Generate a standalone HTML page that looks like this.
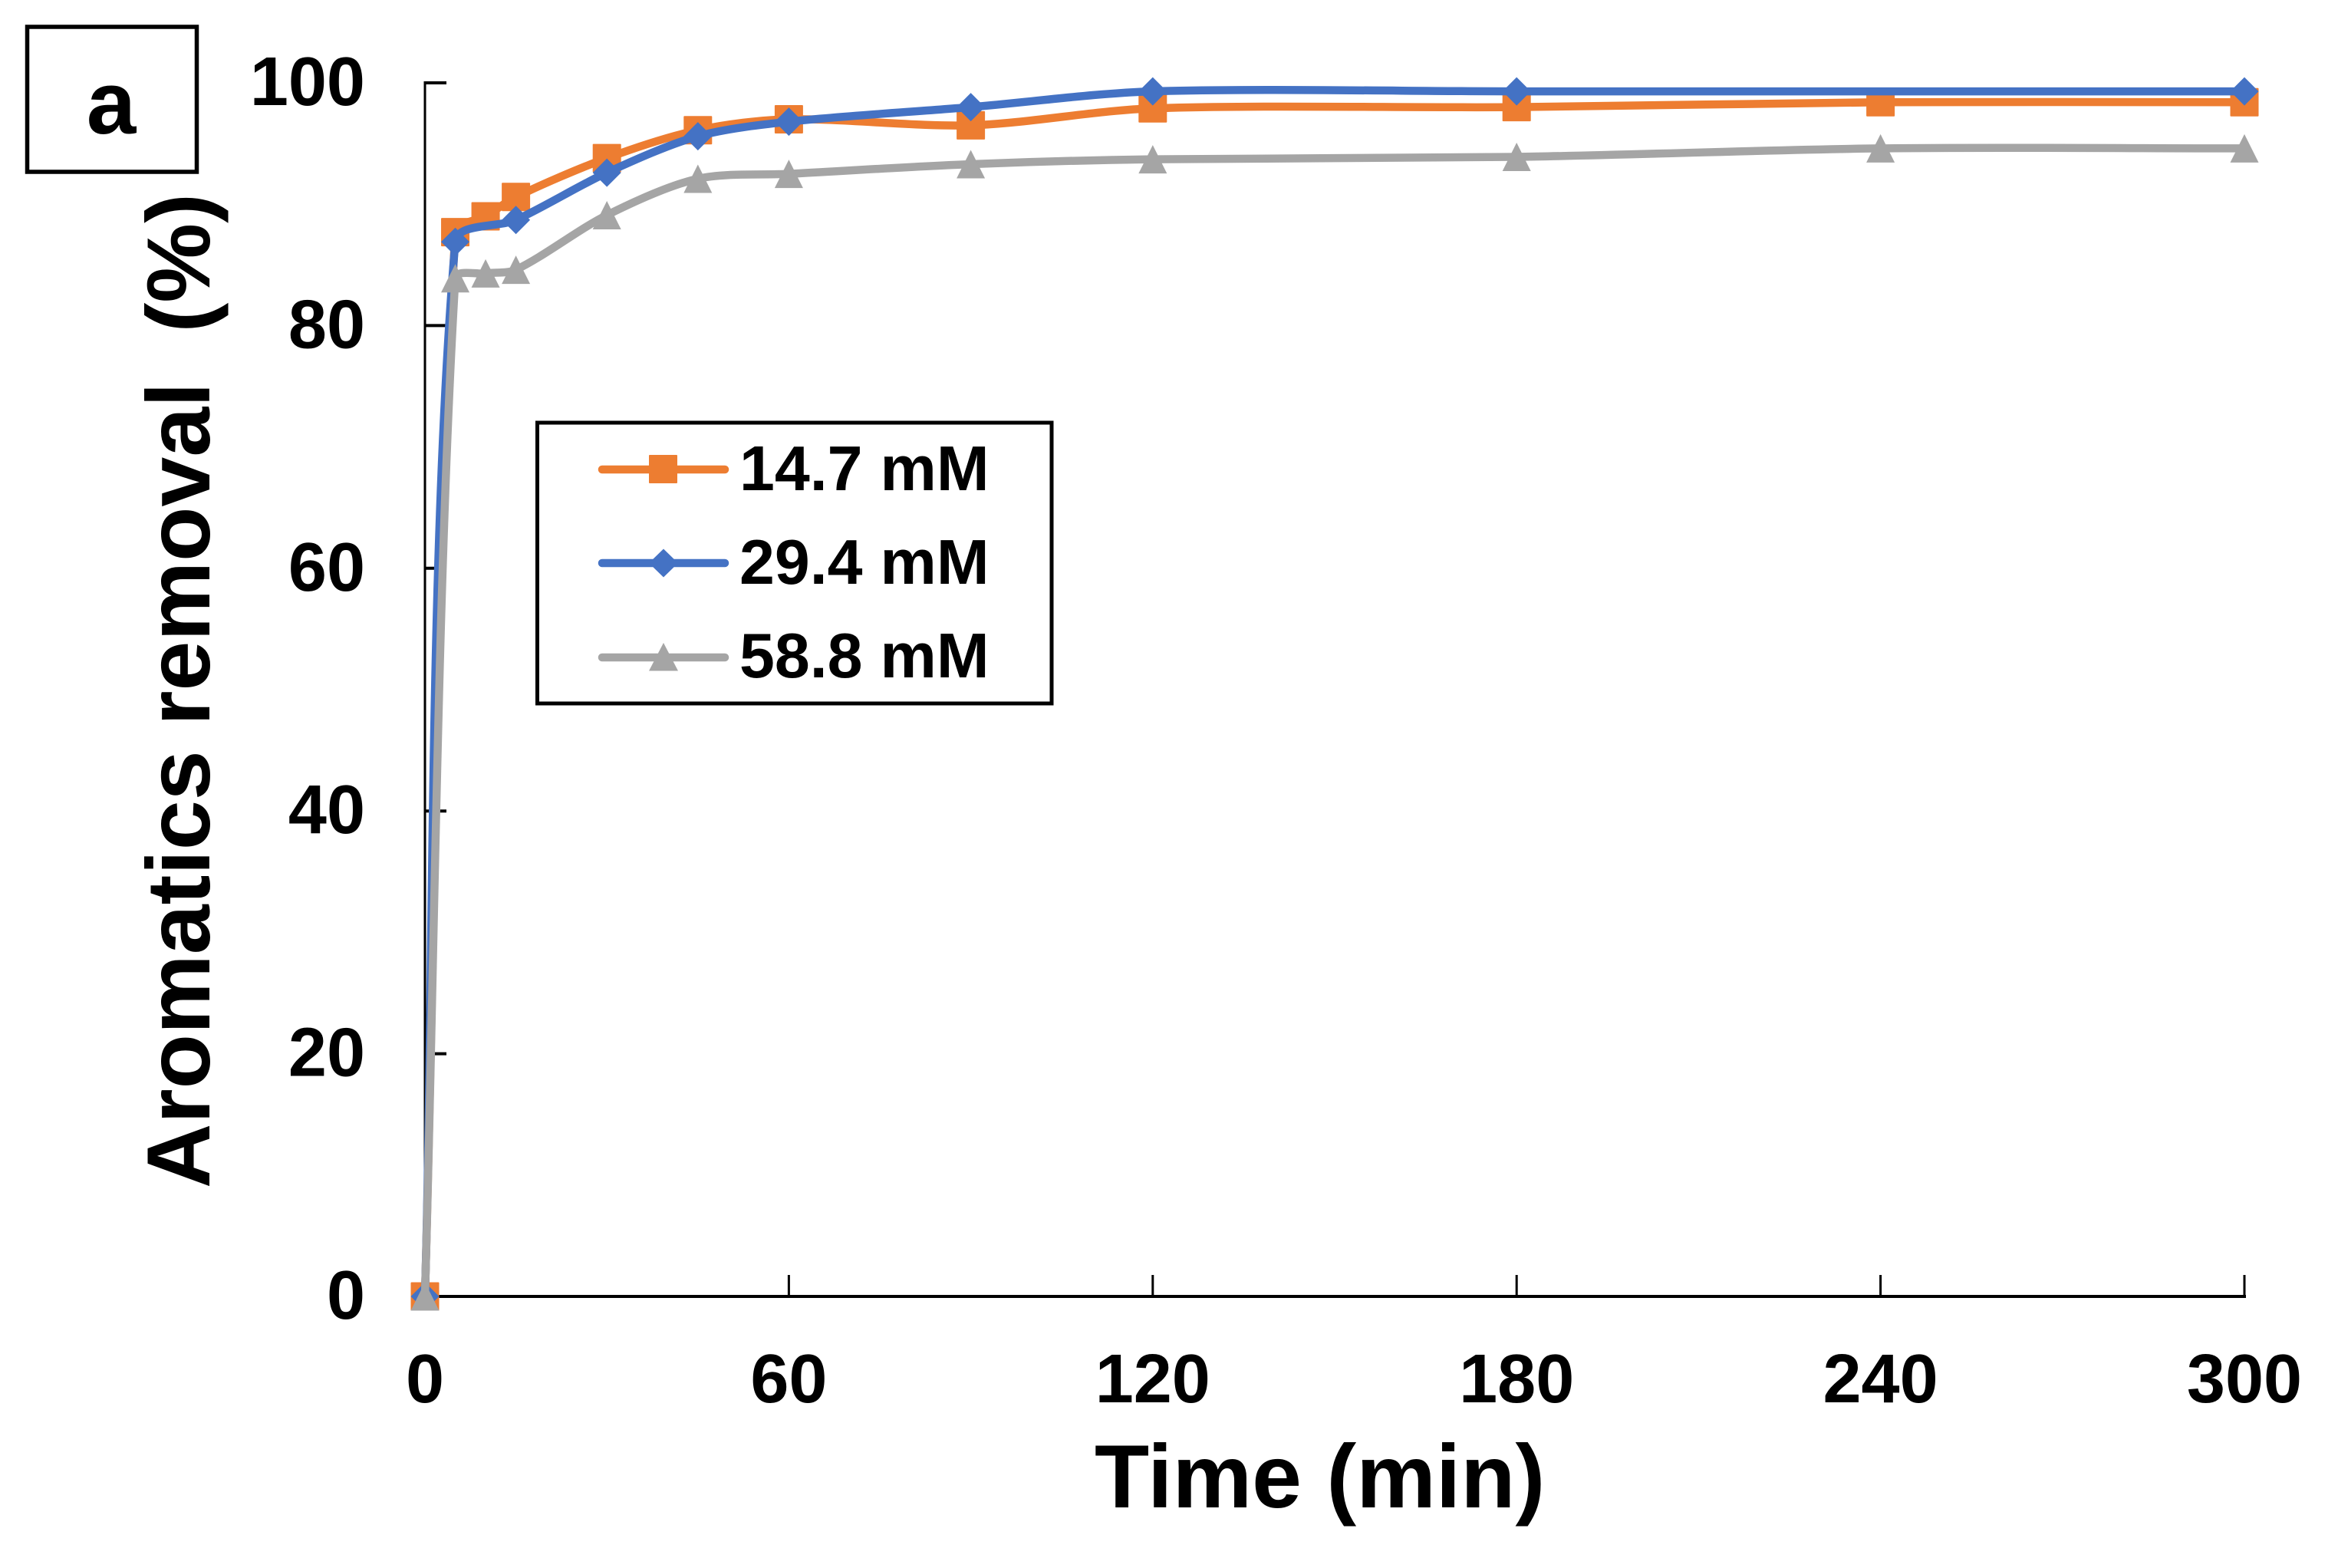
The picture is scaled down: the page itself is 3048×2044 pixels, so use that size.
<!DOCTYPE html>
<html lang="en">
<head>
<meta charset="utf-8">
<title>Aromatics removal over time</title>
<style>
html,body{margin:0;padding:0;background:#fff;}
svg{display:block;}
text{font-family:"Liberation Sans",Arial,sans-serif;font-weight:700;fill:#000;white-space:pre;}
</style>
</head>
<body>
<svg id="chart" xmlns="http://www.w3.org/2000/svg" width="3048" height="2044" viewBox="0 0 3048 2044">
  <rect x="0" y="0" width="3048" height="2044" fill="#fff"/>
  <g id="axes"></g>
  <g id="series"></g>

  <text x="273" y="1549" transform="rotate(-90 273 1549)" font-size="116.7" xml:space="preserve">Aromatics removal  (%)</text>
  <text x="1427" y="1965" font-size="116.6">Time (min)</text>

  <g>
    <rect x="35.5" y="35" width="221" height="189" fill="#fff" stroke="#000" stroke-width="5.5"/>
    <text x="145" y="174" font-size="116" text-anchor="middle">a</text>
  </g>

  <g>
    <rect x="700.5" y="551" width="670.5" height="366" fill="#fff" stroke="#000" stroke-width="5"/>
    <g>
      <line x1="785" y1="612" x2="945" y2="612" stroke="#ED7D31" stroke-width="10.5" stroke-linecap="round"/>
      <rect x="846" y="593" width="37" height="37" rx="1" fill="#ED7D31"/>
      <text x="964" y="639" font-size="82.5">14.7 mM</text>
    </g>
    <g>
      <line x1="785" y1="734" x2="945" y2="734" stroke="#4472C4" stroke-width="10.5" stroke-linecap="round"/>
      <polygon points="865,715.5 884,734 865,752.5 846,734" fill="#4472C4"/>
      <text x="964" y="761" font-size="82.5">29.4 mM</text>
    </g>
    <g>
      <line x1="785" y1="857" x2="945" y2="857" stroke="#A5A5A5" stroke-width="10.5" stroke-linecap="round"/>
      <polygon points="865,838 884,874.5 846,874.5" fill="#A5A5A5"/>
      <text x="964" y="883" font-size="82.5">58.8 mM</text>
    </g>
  </g>
</svg>
<script>
const xTickValues = [0, 60, 120, 180, 240, 300];
const yTickValues = [0, 20, 40, 60, 80, 100];

const timesOrange = [0, 5, 10, 15, 30, 45, 60, 90, 120, 180, 240, 300];
const valuesOrange = [0, 87.7, 89.0, 90.6, 93.8, 96.1, 97.0, 96.5, 97.9, 98.0, 98.4, 98.4];

const timesBlue = [0, 5, 15, 30, 45, 60, 90, 120, 180, 300];
const valuesBlue = [0, 86.9, 88.7, 92.6, 95.6, 96.8, 98.0, 99.3, 99.3, 99.3];

const timesGray = [0, 5, 10, 15, 30, 45, 60, 90, 120, 180, 240, 300];
const valuesGray = [0, 83.9, 84.3, 84.6, 89.1, 92.1, 92.5, 93.3, 93.7, 93.9, 94.6, 94.6];

const svgNS = 'http://www.w3.org/2000/svg';
const axesGroup = document.getElementById('axes');
const seriesGroup = document.getElementById('series');

function xScale(t) { return 554 + (t / 300) * (2926 - 554); }
function yScale(v) { return 1690 - (v / 100) * (1690 - 108); }

function make(tag, attrs) {
  const el = document.createElementNS(svgNS, tag);
  for (const k in attrs) el.setAttribute(k, attrs[k]);
  return el;
}

// Axis lines
const yAxisLine = make('line', { x1: 554, y1: 106, x2: 554, y2: 1692, stroke: '#000', 'stroke-width': 3 });


axesGroup.appendChild(yAxisLine);

const xAxisLine = make('line', { x1: 552, y1: 1690, x2: 2928, y2: 1690, stroke: '#000', 'stroke-width': 4 });


axesGroup.appendChild(xAxisLine);

// Y ticks and labels
yTickValues.forEach(function (v) {
  const tick = make('line', { x1: 554, y1: yScale(v), x2: 582, y2: yScale(v), stroke: '#000', 'stroke-width': 4 });
  
  
  axesGroup.appendChild(tick);
  const label = make('text', { x: 476, y: yScale(v) + 29, 'font-size': 90, 'text-anchor': 'end' });
  label.textContent = String(v);
  
  
  axesGroup.appendChild(label);
});

// X ticks and labels
xTickValues.forEach(function (t) {
  const tick = make('line', { x1: xScale(t), y1: 1662, x2: xScale(t), y2: 1690, stroke: '#000', 'stroke-width': 3 });
  
  
  axesGroup.appendChild(tick);
  const label = make('text', { x: xScale(t), y: 1828, 'font-size': 90, 'text-anchor': 'middle' });
  label.textContent = String(t);
  
  
  axesGroup.appendChild(label);
});

// Smoothed path: tangents weighted by segment length, with magnitude limited to a share of the segment
function smoothPath(pts) {
  function dist(a, b) { return Math.hypot(a[0] - b[0], a[1] - b[1]); }
  function ctrl(prev, cur, next, nearLen) {
    const total = dist(prev, cur) + dist(cur, next);
    const f = total > 0 ? 0.4 * nearLen / total : 0;
    let cx = (next[0] - prev[0]) * f, cy = (next[1] - prev[1]) * f;
    const mag = Math.hypot(cx, cy), limit = nearLen * 0.3;
    if (mag > limit) { cx *= limit / mag; cy *= limit / mag; }
    return [cx, cy];
  }
  let d = 'M' + pts[0][0] + ' ' + pts[0][1];
  for (let i = 0; i < pts.length - 1; i++) {
    const p0 = pts[Math.max(i - 1, 0)], p1 = pts[i], p2 = pts[i + 1], p3 = pts[Math.min(i + 2, pts.length - 1)];
    const len = dist(p1, p2);
    const a = ctrl(p0, p1, p2, len);
    const b = ctrl(p1, p2, p3, len);
    d += ' C' + (p1[0] + a[0]) + ' ' + (p1[1] + a[1]) + ' ' + (p2[0] - b[0]) + ' ' + (p2[1] - b[1]) + ' ' + p2[0] + ' ' + p2[1];
  }
  return d;
}

function drawSeries(name, times, values, color, markerKind) {
  const group = make('g', {});
  
  
  const pts = times.map(function (t, i) { return [xScale(t), yScale(values[i])]; });
  const line = make('path', { d: smoothPath(pts), fill: 'none', stroke: color, 'stroke-width': 10.5, 'stroke-linejoin': 'round' });
  
  
  group.appendChild(line);
  pts.forEach(function (p) {
    const x = p[0], y = p[1], r = 18.5;
    let marker;
    if (markerKind === 'square') {
      marker = make('rect', { x: x - r, y: y - r, width: 2 * r, height: 2 * r, rx: 1, fill: color });
    } else if (markerKind === 'diamond') {
      marker = make('polygon', { points: [x, y - r, x + r, y, x, y + r, x - r, y].join(' '), fill: color });
    } else {
      marker = make('polygon', { points: [x, y - r, x + r, y + r, x - r, y + r].join(' '), fill: color });
    }
    
    
    group.appendChild(marker);
  });
  seriesGroup.appendChild(group);
}

drawSeries('14-7-mm', timesOrange, valuesOrange, '#ED7D31', 'square');
drawSeries('29-4-mm', timesBlue, valuesBlue, '#4472C4', 'diamond');
drawSeries('58-8-mm', timesGray, valuesGray, '#A5A5A5', 'triangle');
</script>
</body>
</html>
